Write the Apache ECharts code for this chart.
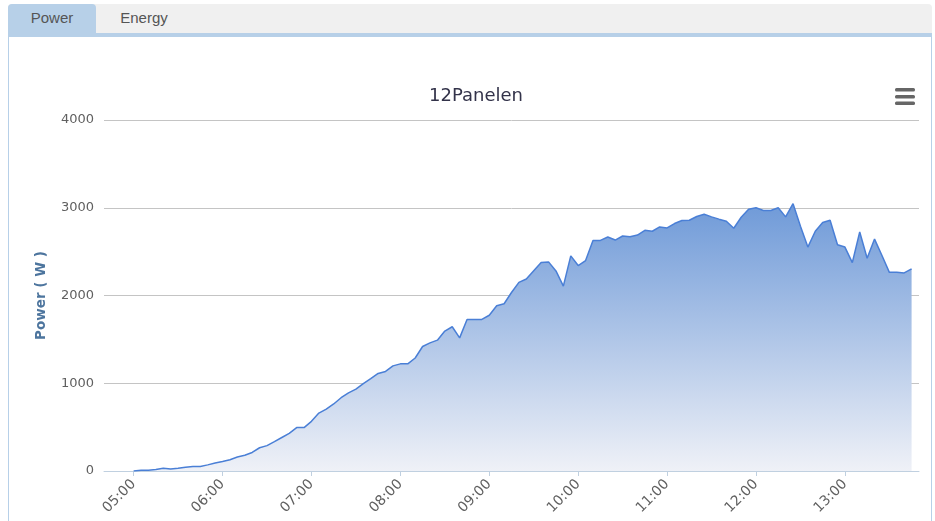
<!DOCTYPE html>
<html>
<head>
<meta charset="utf-8">
<script src="https://cdn.jsdelivr.net/npm/echarts@6/dist/echarts.min.js"></script>
<style>
html,body{margin:0;padding:0;width:935px;height:521px;overflow:hidden;background:#fff;font-family:"Liberation Sans",Arial,sans-serif;}
#chart{position:absolute;left:0;top:0;width:935px;height:521px;}
#tabs{position:absolute;left:8px;top:4px;width:924px;height:29px;background:#f0f0f0;border-radius:4px 4px 0 0;z-index:2;}
.tab{position:absolute;top:0;height:29px;line-height:28px;font-size:15px;color:#555;text-align:center;}
#t1{left:0;width:88px;background:#b7d0e8;border-radius:4px 4px 0 0;}
#t2{left:88px;width:96px;}
#strip{position:absolute;left:8px;top:33px;width:924px;height:4px;background:#b7d0e8;z-index:2;}
#lb{position:absolute;left:8px;top:37px;width:1px;height:484px;background:#b7d0e8;z-index:2;}
#rb{position:absolute;left:931px;top:37px;width:1px;height:484px;background:#b7d0e8;z-index:2;}
</style>
</head>
<body>
<div id="chart"></div>
<div id="tabs"><div class="tab" id="t1">Power</div><div class="tab" id="t2">Energy</div></div>
<div id="strip"></div><div id="lb"></div><div id="rb"></div>
<script>
// ---- data ----
const chartTitle = "12Panelen";
const yAxisName = "Power ( W )";
const startHour = 5, startMinute = 0, stepMinutes = 5;   // samples every 5 minutes from 05:00
const powerW = [
  0, 8, 8, 16, 31, 23, 31, 43, 51, 51, 70, 90,              // 05:00 - 05:55
  109, 129, 160, 180, 211, 265, 289, 335, 382, 429, 495, 495, // 06:00 - 06:55
  566, 660, 705, 764, 835, 891, 933, 996, 1052, 1112, 1135, 1198, // 07:00 - 07:55
  1221, 1221, 1288, 1419, 1460, 1491, 1595, 1644, 1517, 1727, 1727, 1727, // 08:00 - 08:55
  1775, 1884, 1906, 2034, 2150, 2188, 2283, 2375, 2383, 2280, 2107, 2452, // 09:00 - 09:55
  2341, 2398, 2628, 2628, 2666, 2632, 2678, 2670, 2689, 2743, 2732, 2781, // 10:00 - 10:55
  2770, 2820, 2854, 2858, 2900, 2925, 2896, 2870, 2846, 2766, 2892, 2984, // 11:00 - 11:55
  3000, 2969, 2969, 3000, 2896, 3046, 2789, 2552, 2732, 2831, 2858, 2578, // 12:00 - 12:55
  2552, 2375, 2724, 2425, 2643, 2456, 2264, 2264, 2257, 2303             // 13:00 - 13:45
];
const axisMinTime = [4, 40];
const axisMaxTime = [13, 50];
const yTicks = [0, 1000, 2000, 3000, 4000];

// ---- build ----
function t(h, m) { return new Date(2024, 5, 1, h, m, 0).getTime(); }
function pad(n) { return (n < 10 ? '0' : '') + n; }
const seriesData = powerW.map(function (v, i) {
  return [t(startHour, startMinute + i * stepMinutes), v];
});

const chart = echarts.init(document.getElementById('chart'), null, {renderer: 'canvas'});
chart.setOption({
  animation: false,
  backgroundColor: 'transparent',
  title: {
    text: chartTitle,
    left: 471,
    top: 82,
    textAlign: 'center',
    textStyle: {fontFamily: 'DejaVu Sans', fontSize: 18, fontWeight: 'normal', color: '#33334a'}
  },
  grid: {left: 104, right: 16, top: 120, bottom: 50, containLabel: false},
  xAxis: {
    type: 'time',
    min: t(axisMinTime[0], axisMinTime[1]),
    max: t(axisMaxTime[0], axisMaxTime[1]),
    minInterval: 3600000,
    maxInterval: 3600000,
    axisLine: {show: true, lineStyle: {color: '#c0d0e0', width: 1}},
    axisTick: {show: true, length: 5, lineStyle: {color: '#c0d0e0'}},
    splitLine: {show: false},
    axisLabel: {
      rotate: 45, margin: 11, color: '#606060', fontSize: 14, fontFamily: 'DejaVu Sans',
      hideOverlap: false,
      formatter: function (v) { const d = new Date(v); return pad(d.getHours()) + ':' + pad(d.getMinutes()); }
    }
  },
  yAxis: {
    type: 'value',
    min: yTicks[0], max: yTicks[yTicks.length - 1], interval: yTicks[1] - yTicks[0],
    name: yAxisName,
    nameLocation: 'middle',
    nameGap: 56,
    nameTextStyle: {fontFamily: 'DejaVu Sans', fontWeight: 'bold', fontSize: 13.5, color: '#4d759e'},
    axisLine: {show: false},
    axisTick: {show: false},
    axisLabel: {margin: 10, color: '#606060', fontSize: 13, fontFamily: 'DejaVu Sans',
      formatter: function (v) { return String(v); }},
    splitLine: {lineStyle: {color: '#c4c4c4', width: 1}}
  },
  series: [{
    type: 'line',
    data: seriesData,
    showSymbol: false,
    smooth: false,
    lineStyle: {color: '#4a7fd6', width: 1.5},
    itemStyle: {color: '#4a7fd6'},
    areaStyle: {
      opacity: 1,
      color: new echarts.graphic.LinearGradient(0, 0, 0, 1, [
        {offset: 0, color: '#6f9ad8'},
        {offset: 1, color: '#eff1f7'}
      ])
    }
  }],
  graphic: [
    {type: 'rect', left: 895, top: 88, shape: {width: 20, height: 3.5, r: 1.5}, style: {fill: '#666'}},
    {type: 'rect', left: 895, top: 95, shape: {width: 20, height: 3.5, r: 1.5}, style: {fill: '#666'}},
    {type: 'rect', left: 895, top: 101.5, shape: {width: 20, height: 3.5, r: 1.5}, style: {fill: '#666'}}
  ]
});
</script>
</body>
</html>
